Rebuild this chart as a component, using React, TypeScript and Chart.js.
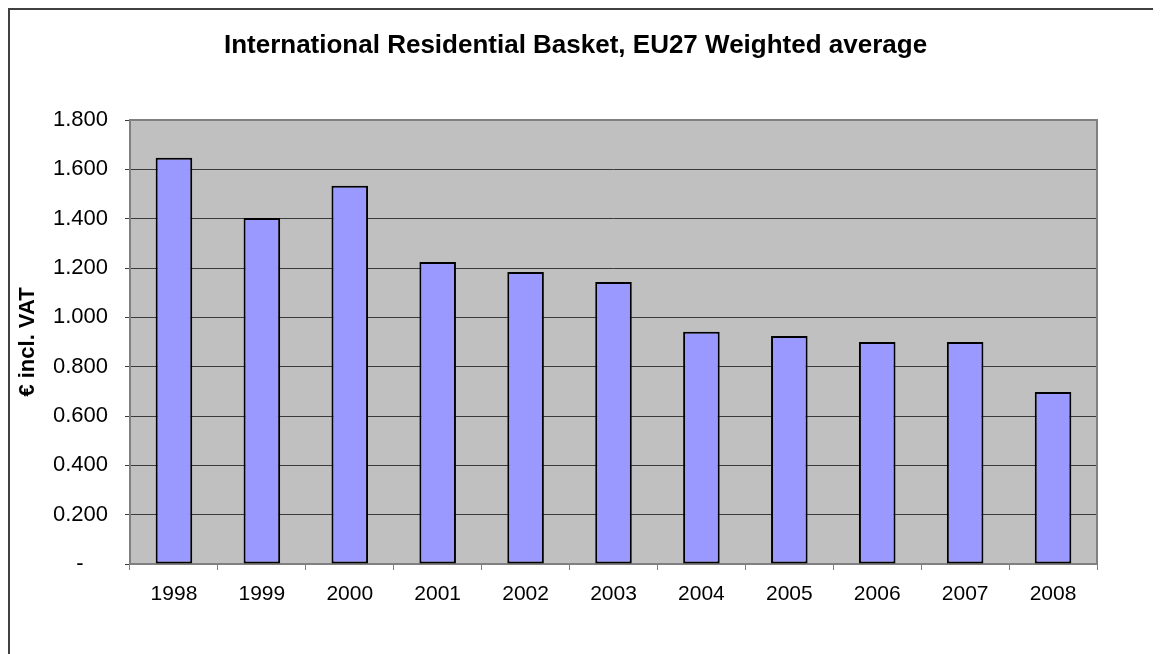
import { useEffect, useRef } from 'react';
import { Chart, registerables } from 'chart.js';

Chart.register(...registerables);

const years = ['1998', '1999', '2000', '2001', '2002', '2003', '2004', '2005', '2006', '2007', '2008'];
const basketValues = [1.647, 1.403, 1.533, 1.224, 1.184, 1.143, 0.942, 0.924, 0.9, 0.9, 0.697];
const chartTitle = 'International Residential Basket, EU27 Weighted average';
const yAxisTitle = '€ incl. VAT';
const yMin = 0;
const yMax = 1.8;
const yStep = 0.2;

const FONT = '"Liberation Sans", Arial, sans-serif';

const plotAreaPlugin = {
  id: 'plotArea',
  beforeDraw(chart: any) {
    const { ctx, chartArea } = chart;
    ctx.save();
    ctx.fillStyle = '#C0C0C0';
    ctx.fillRect(chartArea.left, chartArea.top, chartArea.right - chartArea.left, chartArea.bottom - chartArea.top);
    ctx.restore();
  },
  beforeDatasetsDraw(chart: any) {
    const { ctx, chartArea } = chart;
    ctx.save();
    ctx.strokeStyle = '#808080';
    ctx.lineWidth = 2;
    ctx.strokeRect(chartArea.left, chartArea.top, chartArea.right - chartArea.left, chartArea.bottom - chartArea.top);
    ctx.restore();
  },
};

export default function App() {
  const canvasRef = useRef<HTMLCanvasElement | null>(null);

  useEffect(() => {
    document.documentElement.style.overflow = 'hidden';
    const canvas = canvasRef.current;
    if (!canvas) return;
    const chart = new Chart(canvas, {
      type: 'bar',
      data: {
        labels: years,
        datasets: [
          {
            data: basketValues,
            backgroundColor: '#9999FF',
            borderColor: '#000000',
            borderWidth: 2,
            borderSkipped: false,
            barPercentage: 0.416,
            categoryPercentage: 1,
          },
        ],
      },
      options: {
        animation: false,
        responsive: false,
        devicePixelRatio: 1,
        layout: { padding: { left: 44, right: 64, top: 0, bottom: 0 } },
        font: { family: FONT },
        plugins: {
          legend: { display: false },
          tooltip: { enabled: false },
          title: {
            display: true,
            text: chartTitle,
            color: '#000000',
            font: { family: FONT, size: 26, weight: 'bold' },
            padding: { top: 20.4, bottom: 58.4 },
          },
        },
        scales: {
          x: {
            type: 'category',
            grid: {
              offset: true,
              drawOnChartArea: false,
              drawTicks: true,
              tickLength: 6,
              color: '#808080',
              lineWidth: 1,
            },
            border: { display: false },
            ticks: {
              color: '#000000',
              font: { family: FONT, size: 21 },
              padding: 12,
              maxRotation: 0,
              autoSkip: false,
            },
            afterFit: (s: any) => {
              s.height = 90;
            },
          },
          y: {
            min: yMin,
            max: yMax,
            grid: {
              color: '#3a3a3a',
              lineWidth: 1,
              tickLength: 5,
            },
            border: { display: false },
            ticks: {
              stepSize: yStep,
              color: '#000000',
              font: { family: FONT, size: 22 },
              padding: 17,
              callback: (v: any) => {
                const n = Number(v);
                if (Math.abs(n) < 1e-9) return '-    ';
                return n.toFixed(3);
              },
            },
            title: {
              display: true,
              text: yAxisTitle,
              color: '#000000',
              font: { family: FONT, size: 22, weight: 'bold' },
              padding: { top: -39.2, bottom: 0 },
            },
            afterFit: (s: any) => {
              s.width = 76;
            },
          },
        },
      },
      plugins: [plotAreaPlugin],
    } as any);
    return () => chart.destroy();
  }, []);

  return (
    <div
      style={{
        width: 1153,
        height: 646,
        borderLeft: '2px solid #404040',
        borderTop: '2px solid #404040',
        boxSizing: 'border-box',
        overflow: 'hidden',
      }}
    >
      <canvas ref={canvasRef} width={1151} height={644} style={{ display: 'block' }} />
    </div>
  );
}
